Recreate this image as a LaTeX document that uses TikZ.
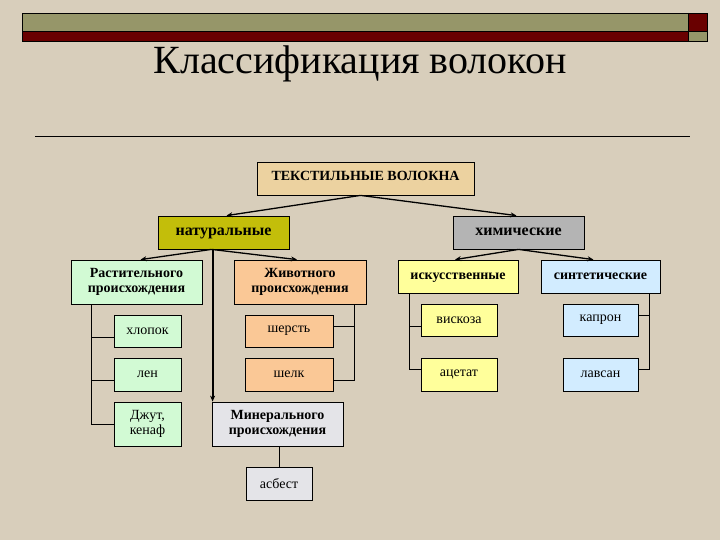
\documentclass[tikz,border=0pt]{standalone}
\usepackage{fontspec}
\setmainfont{Liberation Serif}
\usetikzlibrary{arrows.meta,calc}
\definecolor{bg}{RGB}{216,206,187}
\definecolor{barolive}{RGB}{150,150,105}
\definecolor{barred}{RGB}{105,0,0}
\definecolor{fbeige}{RGB}{236,210,160}
\definecolor{fnat}{RGB}{195,190,10}
\definecolor{fchem}{RGB}{180,180,180}
\definecolor{fgreen}{RGB}{210,250,212}
\definecolor{forange}{RGB}{250,200,150}
\definecolor{fyellow}{RGB}{255,255,155}
\definecolor{fblue}{RGB}{210,236,255}
\definecolor{fmin}{RGB}{228,228,232}
\tikzset{
  box/.style={draw=black, line width=0.8pt, inner sep=1pt, align=center},
  head/.style={box, font=\fontsize{14}{15}\selectfont\bfseries},
  onehead/.style={head, text height=8pt, text depth=3pt},
  bighead/.style={box, font=\fontsize{16}{18}\selectfont\bfseries, text height=9pt, text depth=3pt},
  leaf/.style={box, font=\fontsize{14}{15}\selectfont},
  arr/.style={draw=black, line width=1.3pt, -{Stealth[length=6pt,width=5pt]}},
  tree/.style={draw=black, line width=0.8pt}
}
\begin{document}
\begin{tikzpicture}[x=1pt,y=-1pt]
\useasboundingbox (0,0) rectangle (720,540);
\fill[bg] (0,0) rectangle (720,540);
% top bars
\fill[barolive] (22,13) rectangle (688,31);
\fill[barred] (22,31) rectangle (688,41);
\fill[barred] (688,13) rectangle (707,31);
\fill[barolive] (688,31) rectangle (707,41);
\draw[line width=0.6pt] (22,13) rectangle (707,41);
\draw[line width=0.6pt] (22,31) -- (707,31) (688,13) -- (688,41);
% title
\node[font=\fontsize{40}{44}\selectfont] (title) at (360,64) {Классификация волокон};
\draw[line width=0.8pt] (35,136) -- (690,136);
% nodes
\node[onehead, fill=fbeige, minimum width=217pt, minimum height=33pt] (textile) at (365.5,178.5) {ТЕКСТИЛЬНЫЕ ВОЛОКНА};
\node[bighead, fill=fnat, minimum width=131pt, minimum height=33pt] (nat) at (223.5,232.5) {натуральные};
\node[bighead, fill=fchem, minimum width=131pt, minimum height=33pt] (chem) at (518.5,232.5) {химические};
\node[head, fill=fgreen, minimum width=131pt, minimum height=44pt] (rast) at (136.5,282) {Растительного\\происхождения};
\node[head, fill=forange, minimum width=132pt, minimum height=44pt] (ziv) at (300,282) {Животного\\происхождения};
\node[onehead, fill=fyellow, minimum width=120pt, minimum height=33pt] (isk) at (458,276.5) {искусственные};
\node[onehead, fill=fblue, minimum width=119pt, minimum height=33pt] (sin) at (600.5,276.5) {синтетические};
\node[leaf, fill=fgreen, minimum width=67pt, minimum height=32pt] (hlop) at (147.5,331) {хлопок};
\node[leaf, fill=fgreen, minimum width=67pt, minimum height=33pt] (len) at (147.5,374.5) {лен};
\node[leaf, fill=fgreen, minimum width=67pt, minimum height=44pt] (jut) at (147.5,424) {Джут,\\кенаф};
\node[leaf, fill=forange, minimum width=88pt, minimum height=32pt] (sher) at (289,331) {шерсть};
\node[leaf, fill=forange, minimum width=88pt, minimum height=33pt] (shelk) at (289,374.5) {шелк};
\node[head, fill=fmin, minimum width=131pt, minimum height=44pt] (min) at (277.5,424) {Минерального\\происхождения};
\node[leaf, fill=fmin, minimum width=66pt, minimum height=33pt] (asb) at (279,483.5) {асбест};
\node[leaf, fill=fyellow, minimum width=76pt, minimum height=32pt] (visk) at (459,320) {вискоза};
\node[leaf, fill=fyellow, minimum width=76pt, minimum height=33pt] (acet) at (459,374.5) {ацетат};
\node[leaf, fill=fblue, minimum width=75pt, minimum height=32pt] (kapr) at (600.5,320) {капрон};
\node[leaf, fill=fblue, minimum width=75pt, minimum height=33pt] (lavs) at (600.5,374.5) {лавсан};
% arrows
\draw[arr] ($(textile.south)+(-5,0)$) -- ($(nat.north)+(3,0)$);
\draw[arr] ($(textile.south)+(-5,0)$) -- ($(chem.north)+(-2,0)$);
\draw[arr] ($(nat.south)+(-12,0)$) -- ($(rast.north)+(4,0)$);
\draw[arr] ($(nat.south)+(-12,0)$) -- ($(ziv.north)+(-3,0)$);
\draw[arr] (chem.south) -- ($(isk.north)+(-3,0)$);
\draw[arr] (chem.south) -- ($(sin.north)+(-7,0)$);
\coordinate (mtop) at ($(min.north west)+(1,0)$);
\draw[arr, line width=2pt] (nat.south -| mtop) -- (mtop);
% tree lines
\coordinate (rL) at ($(rast.south west)+(21,0)$);
\draw[tree] (rL) |- (jut.west);
\draw[tree] ($(hlop.west)+(0,6)$) -- ++(-22,0);
\draw[tree] ($(len.west)+(0,5.5)$) -- ++(-22,0);
\coordinate (zR) at ($(ziv.south east)+(-12,0)$);
\draw[tree] (zR) |- ($(shelk.east)+(0,5.5)$);
\draw[tree] ($(sher.east)+(0,-5)$) -- ++(21,0);
\draw[tree] (min.south -| asb.north) -- (asb.north);
\coordinate (iL) at ($(isk.south west)+(12,0)$);
\draw[tree] (iL) |- ($(acet.west)+(0,-5.5)$);
\draw[tree] ($(visk.west)+(0,6)$) -- ++(-11,0);
\coordinate (sR) at ($(sin.south east)+(-11,0)$);
\draw[tree] (sR) |- ($(lavs.east)+(0,-5.5)$);
\draw[tree] ($(kapr.east)+(0,-5)$) -- ++(11,0);
\end{tikzpicture}
\end{document}
